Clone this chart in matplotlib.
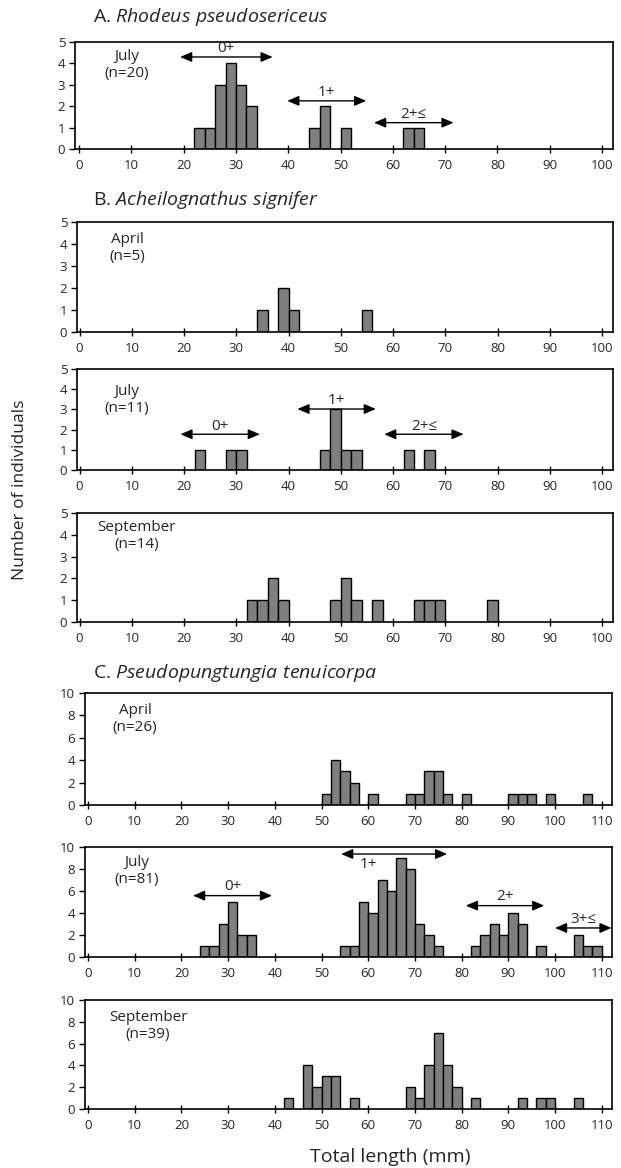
import matplotlib
matplotlib.use("Agg")
import matplotlib.pyplot as plt

plt.rcParams['font.family'] = ['Open Sans', 'DejaVu Sans']
plt.rcParams['mathtext.fontset'] = 'custom'
plt.rcParams['mathtext.rm'] = 'Open Sans'
plt.rcParams['mathtext.it'] = 'Open Sans:italic'

# ---------------- data (bin left edge in mm, bin width 2 mm) ----------------
A_jul_bins = [22, 24, 26, 28, 30, 32, 44, 46, 50, 62, 64]
A_jul_cnt = [1, 1, 3, 4, 3, 2, 1, 2, 1, 1, 1]

B_apr_bins = [34, 38, 40, 54]
B_apr_cnt = [1, 2, 1, 1]

B_jul_bins = [22, 28, 30, 46, 48, 50, 52, 62, 66]
B_jul_cnt = [1, 1, 1, 1, 3, 1, 1, 1, 1]

B_sep_bins = [32, 34, 36, 38, 48, 50, 52, 56, 64, 66, 68, 78]
B_sep_cnt = [1, 1, 2, 1, 1, 2, 1, 1, 1, 1, 1, 1]

C_apr_bins = [50, 52, 54, 56, 60, 68, 70, 72, 74, 76, 80, 90, 92, 94, 98, 106]
C_apr_cnt = [1, 4, 3, 2, 1, 1, 1, 3, 3, 1, 1, 1, 1, 1, 1, 1]

C_jul_bins = [24, 26, 28, 30, 32, 34,
              54, 56, 58, 60, 62, 64, 66, 68, 70, 72, 74,
              82, 84, 86, 88, 90, 92, 96,
              104, 106, 108]
C_jul_cnt = [1, 1, 3, 5, 2, 2,
             1, 1, 5, 4, 7, 6, 9, 8, 3, 2, 1,
             1, 2, 3, 2, 4, 3, 1,
             2, 1, 1]

C_sep_bins = [42, 46, 48, 50, 52, 56, 68, 70, 72, 74, 76, 78, 82, 92, 96, 98, 104]
C_sep_cnt = [1, 4, 2, 3, 3, 1, 2, 1, 4, 7, 4, 2, 1, 1, 1, 1, 1]

# age-class arrows: (start, end, y, label)
A_jul_arrows = [(19.3, 37.0, 4.30, '0+'), (39.8, 54.9, 2.25, '1+'), (56.4, 71.6, 1.23, '2+≤')]
B_jul_arrows = [(19.3, 34.5, 1.77, '0+'), (41.7, 56.7, 3.02, '1+'), (58.3, 73.5, 1.77, '2+≤')]
C_jul_arrows = [(22.5, 39.4, 5.58, '0+'), (54.2, 76.9, 9.36, '1+'), (80.9, 97.7, 4.67, '2+'),
                (100.0, 112.1, 2.64, '3+≤')]

W, H = 621, 1168
fig = plt.figure(figsize=(W / 100, H / 100), dpi=100)
TXT = '#262626'


def fx(px):
    return px / W


def fy(py):
    return 1 - py / H


def make_ax(left, right, top, bottom, xlim, ymax, ystep, xmax_tick):
    ax = fig.add_axes([fx(left), fy(bottom), (right - left) / W, (bottom - top) / H])
    ax.set_xlim(*xlim)
    ax.set_ylim(0, ymax)
    ax.set_xticks(range(0, xmax_tick + 1, 10))
    ax.set_yticks(range(0, ymax + 1, ystep))
    for s in ax.spines.values():
        s.set_linewidth(1.2)
        s.set_color('black')
    ax.tick_params(axis='both', width=1, color='black', labelsize=9.5, labelcolor=TXT)
    ax.tick_params(axis='x', direction='inout', length=6, pad=4)
    ax.tick_params(axis='y', direction='out', length=4, pad=3)
    return ax


def bars(ax, bins, cnt):
    ax.bar(bins, cnt, width=2, align='edge', color='#7f7f7f', edgecolor='black',
           linewidth=1.0, zorder=2)


def arrows(ax, arr, below=()):
    span = ax.get_ylim()[1]
    for (x0, x1, y, lab) in arr:
        ax.annotate('', xy=(x1, y), xytext=(x0, y), xycoords='data', annotation_clip=False,
                    arrowprops=dict(arrowstyle='<|-|>,head_length=0.7,head_width=0.3',
                                    color='black', lw=1, shrinkA=0, shrinkB=0))
        if lab in below:
            ax.text((x0 + x1) / 2 - 5.5, y - span * 0.095, lab, ha='center', va='center',
                    fontsize=11, color=TXT, clip_on=False)
        else:
            ax.text((x0 + x1) / 2, y + span * 0.08, lab, ha='center', va='center',
                    fontsize=11, color=TXT, clip_on=False)


def month(px, py, txt):
    fig.text(fx(px), fy(py), txt, ha='center', va='center', fontsize=11, color=TXT,
             linespacing=1.2)


# ---------------- panel A ----------------
fig.text(fx(93), fy(17), r'A. $\it{Rhodeus\ pseudosericeus}$', ha='left', va='center',
         fontsize=14, color=TXT)
axA = make_ax(75, 613, 42, 149, (-0.8, 102.1), 5, 1, 100)
bars(axA, A_jul_bins, A_jul_cnt)
arrows(axA, A_jul_arrows)
month(127, 65, 'July\n(n=20)')

# ---------------- panel B ----------------
fig.text(fx(93), fy(200), r'B. $\it{Acheilognathus\ signifer}$', ha='left', va='center',
         fontsize=14, color=TXT)
axB1 = make_ax(77, 613, 222, 332, (-0.5, 102.1), 5, 1, 100)
bars(axB1, B_apr_bins, B_apr_cnt)
month(127, 248, 'April\n(n=5)')

axB2 = make_ax(77, 613, 369, 470, (-0.5, 102.1), 5, 1, 100)
bars(axB2, B_jul_bins, B_jul_cnt)
arrows(axB2, B_jul_arrows)
month(127, 400, 'July\n(n=11)')

axB3 = make_ax(77, 613, 513, 622, (-0.5, 102.1), 5, 1, 100)
bars(axB3, B_sep_bins, B_sep_cnt)
month(137, 536, 'September\n(n=14)')

# ---------------- panel C ----------------
fig.text(fx(93), fy(673), r'C. $\it{Pseudopungtungia\ tenuicorpa}$', ha='left', va='center',
         fontsize=14, color=TXT)
axC1 = make_ax(85, 612, 693, 805, (-0.64, 112.2), 10, 2, 110)
bars(axC1, C_apr_bins, C_apr_cnt)
month(135, 719, 'April\n(n=26)')

axC2 = make_ax(85, 612, 847, 957, (-0.64, 112.2), 10, 2, 110)
bars(axC2, C_jul_bins, C_jul_cnt)
arrows(axC2, C_jul_arrows, below=('1+',))
month(137, 871, 'July\n(n=81)')

axC3 = make_ax(85, 612, 1000, 1109, (-0.64, 112.2), 10, 2, 110)
bars(axC3, C_sep_bins, C_sep_cnt)
month(148, 1026, 'September\n(n=39)')

fig.text(fx(20), fy(490), 'Number of individuals', rotation=90, ha='center', va='center',
         fontsize=12.5, color=TXT)
fig.text(fx(390), fy(1157), 'Total length (mm)', ha='center', va='center',
         fontsize=14, color=TXT)

fig.savefig('out.png', dpi=100, facecolor='white')
